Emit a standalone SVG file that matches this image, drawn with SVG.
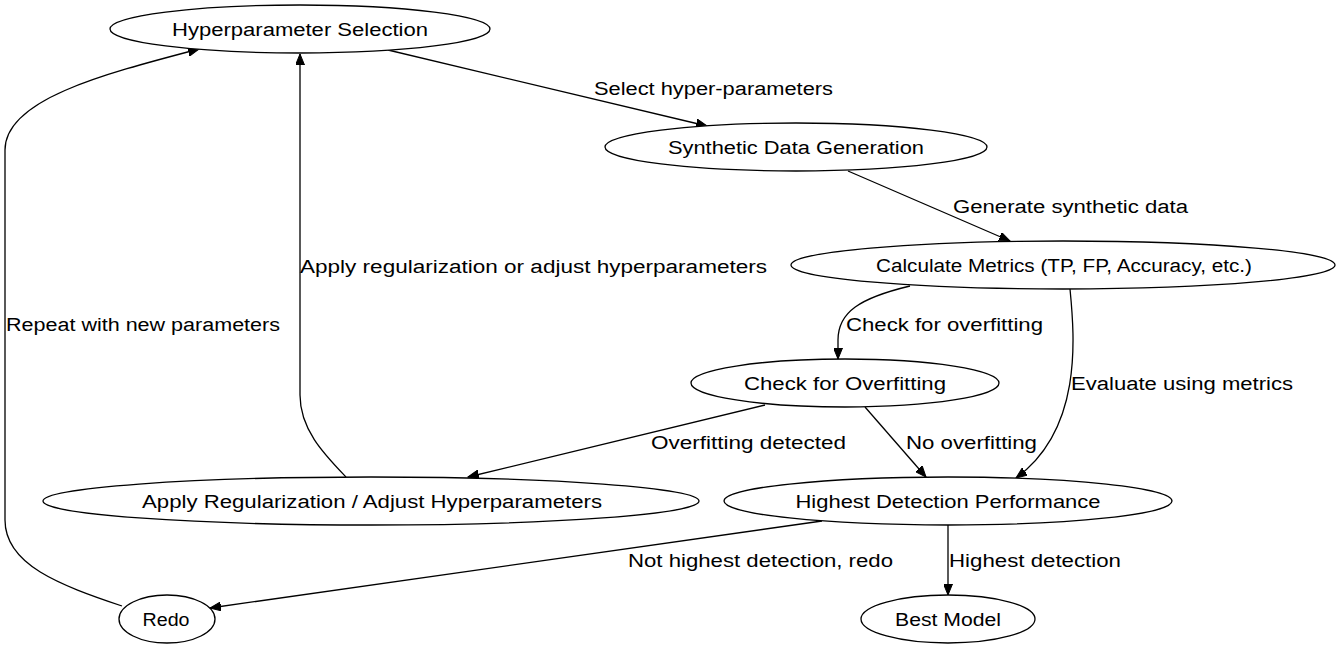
<svg xmlns="http://www.w3.org/2000/svg" width="1342" height="649" viewBox="0 0 1342 649">
<style>
.n ellipse{fill:#fff;stroke:#000;stroke-width:1.3}
text{font-family:"Liberation Sans",Arial,sans-serif;font-size:18px;fill:#000}
.n text{text-anchor:middle}
.e path{fill:none;stroke:#000;stroke-width:1.3;marker-end:url(#ah)}
</style>
<defs>
<marker id="ah" markerUnits="userSpaceOnUse" markerWidth="12" markerHeight="9" refX="11" refY="4.5" orient="auto">
<path d="M0,0 L11,4.5 L0,9 z" fill="#000" stroke="#000" stroke-width="1"/>
</marker>
</defs>
<rect width="1342" height="649" fill="#fff"/>
<g id="connectors" class="e">
<path d="M388,50 L707,126"/>
<path d="M848,171 L1010,241"/>
<path d="M910,286 C860,298 838,312 838,340 L838,359"/>
<path d="M1070,289 C1075,340 1082,430 1016,478"/>
<path d="M765,405 L468,477"/>
<path d="M865,407 L926,477"/>
<path d="M346,477 C325,455 300,430 300,395 L300,54"/>
<path d="M822,521 L210,608"/>
<path d="M948,525 L948,595"/>
<path d="M122,606 C60,585 5,565 5,520 L5,150 C5,100 100,75 199,49"/>
<text x="594" y="95" textLength="239" lengthAdjust="spacingAndGlyphs">Select hyper-parameters</text>
<text x="953" y="213" textLength="235" lengthAdjust="spacingAndGlyphs">Generate synthetic data</text>
<text x="300" y="273" textLength="467" lengthAdjust="spacingAndGlyphs">Apply regularization or adjust hyperparameters</text>
<text x="846" y="331" textLength="197" lengthAdjust="spacingAndGlyphs">Check for overfitting</text>
<text x="6" y="331" textLength="274" lengthAdjust="spacingAndGlyphs">Repeat with new parameters</text>
<text x="1071" y="390" textLength="222" lengthAdjust="spacingAndGlyphs">Evaluate using metrics</text>
<text x="651" y="449" textLength="195" lengthAdjust="spacingAndGlyphs">Overfitting detected</text>
<text x="906" y="449" textLength="131" lengthAdjust="spacingAndGlyphs">No overfitting</text>
<text x="628" y="567" textLength="265" lengthAdjust="spacingAndGlyphs">Not highest detection, redo</text>
<text x="949" y="567" textLength="172" lengthAdjust="spacingAndGlyphs">Highest detection</text>
</g>
<g id="hyperparameter_selection" class="n"><ellipse cx="300" cy="29" rx="190" ry="24"/><text x="300" y="36" textLength="256" lengthAdjust="spacingAndGlyphs">Hyperparameter Selection</text></g>
<g id="synthetic_data_generation" class="n"><ellipse cx="796" cy="147" rx="191" ry="24"/><text x="796" y="154" textLength="256" lengthAdjust="spacingAndGlyphs">Synthetic Data Generation</text></g>
<g id="calculate_metrics" class="n"><ellipse cx="1063" cy="265" rx="272" ry="24"/><text x="1064" y="272" textLength="376" lengthAdjust="spacingAndGlyphs">Calculate Metrics (TP, FP, Accuracy, etc.)</text></g>
<g id="check_overfitting" class="n"><ellipse cx="845" cy="383" rx="154" ry="24"/><text x="845" y="390" textLength="202" lengthAdjust="spacingAndGlyphs">Check for Overfitting</text></g>
<g id="apply_regularization" class="n"><ellipse cx="371" cy="501" rx="328" ry="24"/><text x="372" y="508" textLength="460" lengthAdjust="spacingAndGlyphs">Apply Regularization / Adjust Hyperparameters</text></g>
<g id="highest_detection" class="n"><ellipse cx="948" cy="501" rx="224" ry="24"/><text x="948" y="508" textLength="305" lengthAdjust="spacingAndGlyphs">Highest Detection Performance</text></g>
<g id="redo" class="n"><ellipse cx="167" cy="619" rx="48" ry="24"/><text x="166" y="626" textLength="47" lengthAdjust="spacingAndGlyphs">Redo</text></g>
<g id="best_model" class="n"><ellipse cx="948" cy="619" rx="87" ry="24"/><text x="948" y="626" textLength="106" lengthAdjust="spacingAndGlyphs">Best Model</text></g>
</svg>
